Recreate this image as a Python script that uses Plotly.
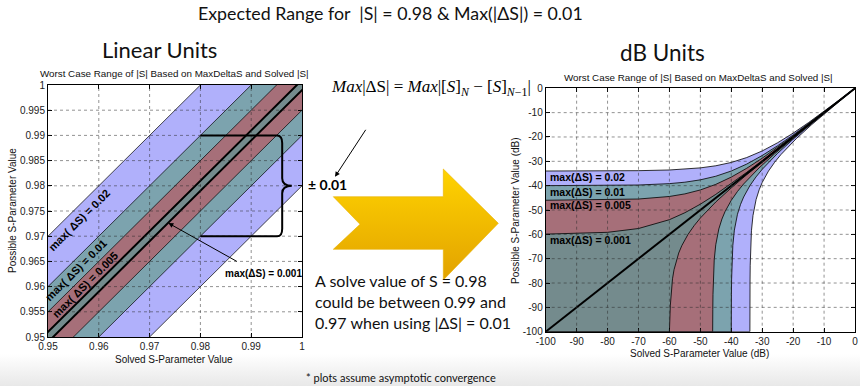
import plotly.graph_objects as go

# ---------------- data ----------------
MAX_DELTA = [0.02, 0.01, 0.005, 0.001]
BAND_LABELS = ["max( ΔS) = 0.02", "max( ΔS) = 0.01", "max( ΔS) = 0.005", "max(ΔS) = 0.001"]
BAND_COLORS = ["#B0B0FB", "#7CA3AE", "#A66F79", "#748B8D"]

# linear chart: solved value range (lines y = x +/- maxdelta)
SOLVED_LIN = [0.94, 1.01]
LIN_XTICKS = [0.95, 0.96, 0.97, 0.98, 0.99, 1.0]
LIN_XTEXT = ["0.95", "0.96", "0.97", "0.98", "0.99", "1"]
LIN_YTICKS = [0.95, 0.955, 0.96, 0.965, 0.97, 0.975, 0.98, 0.985, 0.99, 0.995, 1.0]
LIN_YTEXT = ["0.95", "0.955", "0.96", "0.965", "0.97", "0.975", "0.98", "0.985", "0.99", "0.995", "1"]

# dB chart: upper bound curves
DB_X_UP = [-100, -80, -70, -60, -55, -50, -45, -40, -35, -30, -25, -20, -15, -10, -5, 0]
UP_002 = [-33.98, -33.94, -33.84, -33.56, -33.24, -32.70, -31.83, -30.46, -28.45, -25.74, -22.36, -18.42, -14.07, -9.47, -4.70, 0.17]
UP_001 = [-39.99, -39.91, -39.73, -39.17, -38.58, -37.61, -36.12, -33.98, -31.12, -27.61, -23.58, -19.17, -14.52, -9.73, -4.85, 0.09]
UP_0005 = [-46.00, -45.85, -45.49, -44.44, -43.38, -41.76, -39.47, -36.48, -32.85, -28.72, -24.26, -19.58, -14.76, -9.86, -4.92, 0.04]
UP_0001 = [-59.91, -59.17, -57.61, -53.98, -51.12, -47.61, -43.58, -39.17, -34.52, -29.73, -24.85, -19.91, -14.95, -9.97, -4.98, 0.01]

# dB chart: lower bound curves
LO_X_002 = [-33.98, -33.96, -33.93, -33.88, -33.78, -33.68, -33.48, -32.98, -32.48, -31.98, -30.98, -29.98, -27.98, -25.98, -23.98, -18.98, -13.98, -8.98, -3.98, 0]
LO_Y_002 = [-100, -86.73, -78.75, -72.71, -66.64, -63.06, -58.53, -52.25, -48.47, -45.72, -41.67, -38.64, -34.02, -30.39, -27.28, -20.68, -14.90, -9.48, -4.26, -0.18]
LO_X_001 = [-40, -39.98, -39.95, -39.9, -39.8, -39.7, -39.5, -39, -38.5, -38, -37, -36, -34, -32, -30, -25, -20, -15, -10, 0]
LO_Y_001 = [-100, -92.75, -84.77, -78.73, -72.66, -69.08, -64.55, -58.27, -54.49, -51.74, -47.69, -44.66, -40.04, -36.41, -33.30, -26.70, -20.92, -15.50, -10.28, -0.09]
LO_X_0005 = [-46.02, -46.00, -45.97, -45.92, -45.82, -45.72, -45.52, -45.02, -44.52, -44.02, -43.02, -42.02, -40.02, -38.02, -36.02, -31.02, -26.02, -21.02, -16.02, -6.02, 0]
LO_Y_0005 = [-100, -98.77, -90.79, -84.75, -78.68, -75.10, -70.57, -64.29, -60.51, -57.76, -53.71, -50.68, -46.06, -42.43, -39.32, -32.72, -26.94, -21.52, -16.30, -6.11, -0.04]
LO_X_0001 = [-60, -59.9, -59.8, -59.7, -59.5, -59, -58.5, -58, -57, -56, -54, -52, -50, -45, -40, -35, -30, -20, 0]
LO_Y_0001 = [-100, -98.73, -92.66, -89.08, -84.55, -78.27, -74.49, -71.74, -67.69, -64.66, -60.04, -56.41, -53.30, -46.70, -40.92, -35.50, -30.28, -20.09, -0.01]
DB_DIAG = [-100, 0]
DB_TICKS = [-100, -90, -80, -70, -60, -50, -40, -30, -20, -10, 0]
DB_TEXT = ["-100", "-90", "-80", "-70", "-60", "-50", "-40", "-30", "-20", "-10", "0"]
DB_LABELS = ["max(ΔS) = 0.02", "max(ΔS) = 0.01", "max(ΔS) = 0.005", "max(ΔS) = 0.001"]
DB_LABEL_Y = [-36.3, -42.6, -47.9, -62.3]

UPPERS = [UP_002, UP_001, UP_0005, UP_0001]
LOWERS = [(LO_X_002, LO_Y_002), (LO_X_001, LO_Y_001), (LO_X_0005, LO_Y_0005), (LO_X_0001, LO_Y_0001)]

W, H = 860, 386
NARROW = "Liberation Sans Narrow, Arial Narrow, Liberation Sans, Arial, sans-serif"
CAL = "Lato, Carlito, Calibri, Open Sans, sans-serif"

fig = go.Figure()

# ---------- overlay (whole page) decorations on x/y ----------
fig.add_trace(go.Scatter(x=[0, W, W, 0], y=[0, 0, 32, 32], fill="toself", mode="lines",
                         line=dict(width=0), hoverinfo="skip", showlegend=False,
                         fillgradient=dict(type="vertical", colorscale=[[0, "#E8E8E8"], [1, "#FFFFFF"]]),
                         xaxis="x", yaxis="y"))
arrow_px = [(333.3, 196.7), (443.3, 196.7), (443.3, 169), (498.3, 223.3), (443.3, 280),
            (443.3, 249.3), (333.3, 249.3), (360, 224.3), (333.3, 196.7)]
fig.add_trace(go.Scatter(x=[p[0] for p in arrow_px], y=[H - p[1] for p in arrow_px], fill="toself",
                         mode="lines", line=dict(width=0.6, color="#E8B000"), hoverinfo="skip", showlegend=False,
                         fillgradient=dict(type="vertical", colorscale=[[0, "#E2A200"], [1, "#FFD300"]]),
                         xaxis="x", yaxis="y"))

# ---------- left: linear chart (x2/y2) ----------
a, b = SOLVED_LIN
for i, d in enumerate(MAX_DELTA):
    edge = dict(color="black", width=2 if d == 0.001 else 0.7)
    fig.add_trace(go.Scatter(x=[a, b, b, a], y=[a + d, b + d, b - d, a - d], fill="toself", mode="lines",
                             fillcolor=BAND_COLORS[i], line=dict(width=0), hoverinfo="skip",
                             showlegend=False, xaxis="x2", yaxis="y2"))
    fig.add_trace(go.Scatter(x=[a, b], y=[a + d, b + d], mode="lines", line=edge, hoverinfo="skip",
                             showlegend=False, xaxis="x2", yaxis="y2"))
    fig.add_trace(go.Scatter(x=[a, b], y=[a - d, b - d], mode="lines", line=edge, hoverinfo="skip",
                             showlegend=False, xaxis="x2", yaxis="y2"))

# ---------- right: dB chart (x3/y3) ----------
for i, d in enumerate(MAX_DELTA):
    lx, ly = LOWERS[i]
    px = DB_X_UP + lx[::-1] + [DB_X_UP[0]]
    py = UPPERS[i] + ly[::-1] + [ly[0]]
    fig.add_trace(go.Scatter(x=px, y=py, fill="toself", mode="lines", fillcolor=BAND_COLORS[i],
                             line=dict(color="black", width=0.8), hoverinfo="skip",
                             showlegend=False, xaxis="x3", yaxis="y3"))
fig.add_trace(go.Scatter(x=DB_DIAG, y=DB_DIAG, mode="lines", line=dict(color="black", width=2),
                         hoverinfo="skip", showlegend=False, xaxis="x3", yaxis="y3"))

# ---------- axes ----------
ax_common = dict(showline=True, linecolor="black", linewidth=1, mirror="allticks", ticks="inside",
                 ticklen=4, tickcolor="black", showgrid=False, zeroline=False, automargin=False,
                 tickfont=dict(family=NARROW, size=10, color="#222"), fixedrange=True)
L = dict(x0=48 / W, x1=302 / W, y0=1 - 337 / H, y1=1 - 85 / H)
R = dict(x0=545.7 / W, x1=855 / W, y0=1 - 331.7 / H, y1=1 - 88.3 / H)

fig.update_layout(
    width=W, height=H, margin=dict(l=0, r=0, t=0, b=0, pad=0), autosize=False,
    paper_bgcolor="white", plot_bgcolor="rgba(0,0,0,0)", showlegend=False,
    xaxis=dict(domain=[0, 1], range=[0, W], visible=False, fixedrange=True),
    yaxis=dict(domain=[0, 1], range=[0, H], visible=False, fixedrange=True),
    xaxis2=dict(domain=[L["x0"], L["x1"]], range=[0.95, 1.0], anchor="y2",
                tickvals=LIN_XTICKS, ticktext=LIN_XTEXT, **ax_common),
    yaxis2=dict(domain=[L["y0"], L["y1"]], range=[0.95, 1.0], anchor="x2",
                tickvals=LIN_YTICKS, ticktext=LIN_YTEXT, **ax_common),
    xaxis3=dict(domain=[R["x0"], R["x1"]], range=[-100, 0], anchor="y3",
                tickvals=DB_TICKS, ticktext=DB_TEXT, **ax_common),
    yaxis3=dict(domain=[R["y0"], R["y1"]], range=[-100, 0], anchor="x3",
                tickvals=DB_TICKS, ticktext=DB_TEXT, **ax_common),
)

# dotted grid drawn above the fills
grid = dict(color="rgba(40,40,40,0.5)", width=1, dash="dot")
for v in LIN_XTICKS[1:-1]:
    fig.add_shape(type="line", xref="x2", yref="y2 domain", x0=v, x1=v, y0=0, y1=1, line=grid, layer="above")
for v in LIN_YTICKS[1:-1]:
    fig.add_shape(type="line", xref="x2 domain", yref="y2", x0=0, x1=1, y0=v, y1=v, line=grid, layer="above")
for v in DB_TICKS[1:-1]:
    fig.add_shape(type="line", xref="x3", yref="y3 domain", x0=v, x1=v, y0=0, y1=1, line=grid, layer="above")
    fig.add_shape(type="line", xref="x3 domain", yref="y3", x0=0, x1=1, y0=v, y1=v, line=grid, layer="above")

# brace on linear chart
brace = ("M 0.98,0.99 L 0.9951,0.99 Q 0.9961,0.99 0.9961,0.9885 L 0.9961,0.9815 "
         "Q 0.9961,0.980 0.998,0.980 Q 0.9961,0.980 0.9961,0.9785 L 0.9961,0.9715 "
         "Q 0.9961,0.97 0.9951,0.97 L 0.98,0.97")
fig.add_shape(type="path", path=brace, xref="x2", yref="y2", line=dict(color="black", width=2), layer="above")


def ann(text, x, y, size, family=CAL, color="#111", xanchor="center", **kw):
    fig.add_annotation(text=text, x=x / W, y=1 - y / H, xref="paper", yref="paper", showarrow=False,
                       xanchor=xanchor, yanchor="middle",
                       font=dict(family=family, size=size, color=color), **kw)


# page texts
ann("Expected Range for  |S| = 0.98 &amp; Max(|ΔS|) = 0.01", 390, 13, 17.8)
ann("Linear Units", 159, 49, 22)
ann("dB Units", 662, 52, 22.5)
ann("Worst Case Range of |S| Based on MaxDeltaS and Solved |S|", 174, 73, 9.8, family=NARROW)
ann("Worst Case Range of |S| Based on MaxDeltaS and Solved |S|", 698, 77, 9.8, family=NARROW)
ann("Solved S-Parameter Value", 174, 359, 10, family=NARROW)
ann("Solved S-Parameter Value (dB)", 699, 353, 10, family=NARROW)
ann("Possible S-Parameter Value", 12, 211, 10, family=NARROW, textangle=-90)
ann("Possible S-Parameter Value (dB)", 515, 211, 10, family=NARROW, textangle=-90)
ann("<i>Max</i>|ΔS| = <i>Max</i>|[<i>S</i>]<sub><i>N</i></sub> − [<i>S</i>]<sub><i>N</i>−1</sub>|", 431, 88, 17,
    family="Liberation Serif, Times New Roman, serif", color="black")
ann("<b>± 0.01</b>", 327, 185, 14, color="black")
ann("A solve value of S = 0.98<br>could be between 0.99 and<br>0.97 when using |ΔS| = 0.01", 313, 301, 16,
    xanchor="left", align="left")
ann("* plots assume asymptotic convergence", 401, 377, 11)

# arrow from equation to ± 0.01
fig.add_annotation(x=335 / W, y=1 - 176.7 / H, xref="paper", yref="paper", text="", showarrow=True,
                   ax=31.7, ay=-48.4, arrowhead=2, arrowsize=1, arrowwidth=1, arrowcolor="black")

# band labels on the linear chart (placed inside their bands)
lin_label_pos = [(0.9561, 0.9561 + 0.0172), (0.9555, 0.9555 + 0.0078), (0.9572, 0.9572 + 0.0032)]
for i, (x, y) in enumerate(lin_label_pos):
    fig.add_annotation(x=x, y=y, xref="x2", yref="y2", text="<b>" + BAND_LABELS[i] + "</b>", showarrow=False,
                       textangle=-45, xanchor="center", yanchor="middle",
                       font=dict(family=NARROW, size=11, color="black"))
fig.add_annotation(x=0.99237, y=0.96265, xref="x2", yref="y2", text="<b>" + BAND_LABELS[3] + "</b>",
                   showarrow=False, xanchor="center", yanchor="middle",
                   font=dict(family=NARROW, size=10, color="black"))
fig.add_annotation(x=0.9737, y=0.9726, xref="x2", yref="y2", ax=0.98745, ay=0.96484, axref="x2", ayref="y2",
                   text="", showarrow=True, arrowhead=2, arrowsize=1, arrowwidth=1, arrowcolor="black")

# band labels on the dB chart
for i, y in enumerate(DB_LABEL_Y):
    fig.add_annotation(x=-99.3, y=y, xref="x3", yref="y3", text="<b>" + DB_LABELS[i] + "</b>", showarrow=False,
                       xanchor="left", yanchor="middle", font=dict(family=NARROW, size=10.5, color="black"))

fig.write_html("out.html", config={"displayModeBar": False},
               post_script="document.body.style.margin='0';document.body.style.overflow='hidden';")
